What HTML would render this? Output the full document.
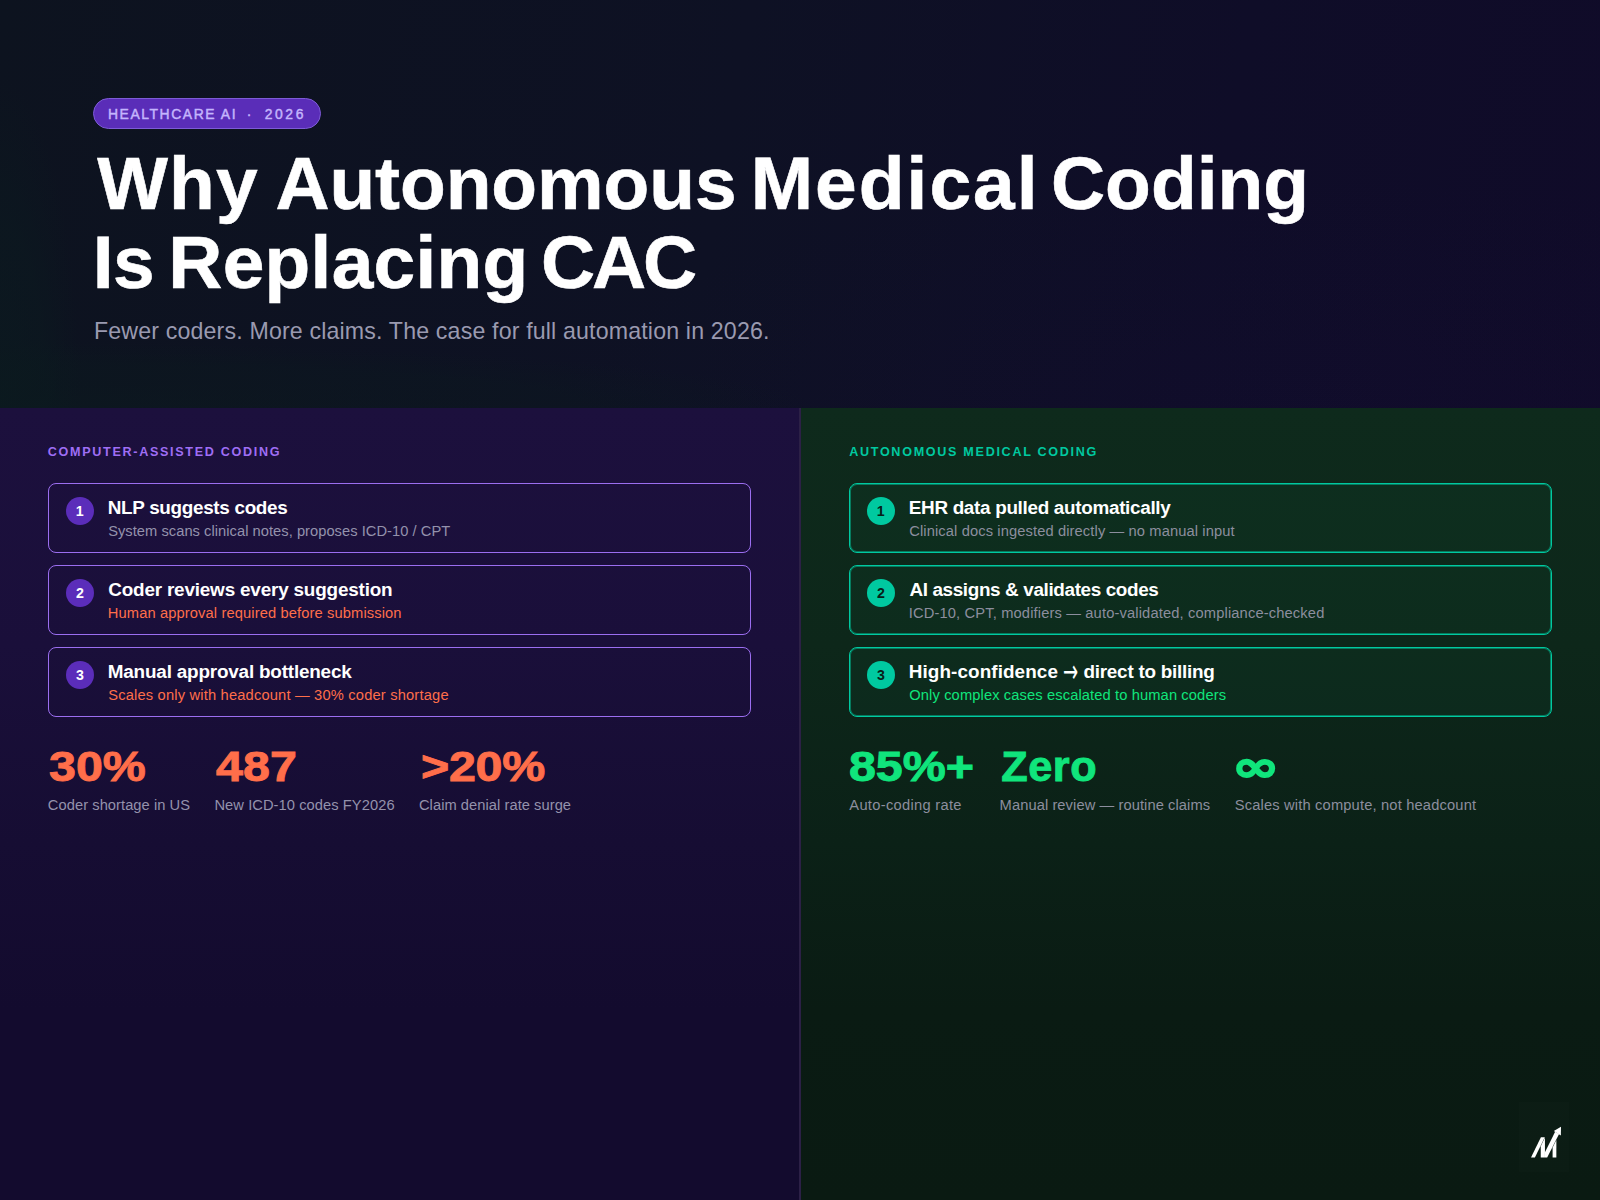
<!DOCTYPE html>
<html lang="en">
<head>
<meta charset="utf-8">
<title>Why Autonomous Medical Coding Is Replacing CAC</title>
<style>
*{box-sizing:border-box;margin:0;padding:0}
html,body{width:1600px;height:1200px;overflow:hidden;background:#0e1022}
body{font-family:"Liberation Sans", sans-serif;-webkit-font-smoothing:antialiased}
#slide{position:relative;width:1600px;height:1200px;overflow:hidden}
.t{position:absolute;white-space:nowrap;line-height:1;display:block}
.g{font-family:"DejaVu Sans","Liberation Sans",sans-serif;font-weight:700;transform-origin:0 0}
h1,p,h2{font-size:inherit;font-weight:inherit}
.hero-bg{position:absolute;left:0;top:0;width:1600px;height:408px;
  background:
   radial-gradient(ellipse 80px 330px at 0% 100%, rgba(11,26,31,.75) 0%, rgba(11,26,31,.55) 55%, rgba(11,26,31,0) 100%),
   radial-gradient(ellipse 820px 66px at 0% 100%, rgba(11,26,30,.55) 0%, rgba(11,26,30,.35) 70%, rgba(11,26,30,0) 100%),
   radial-gradient(ellipse 760px 230px at 82% 100%, rgba(26,15,62,.12), rgba(26,15,62,0) 100%),
   linear-gradient(100deg,#0d131f 0%,#0e1124 45%,#0f0d28 75%,#100b29 100%)}
.pill{position:absolute;left:93px;top:98px;width:228px;height:30.5px;border-radius:16px;background:#5a2db8;border:1px solid #7d5bd6}
.lbg{position:absolute;left:0;top:408px;width:799px;height:792px;background:linear-gradient(180deg,#1c103d 0%,#1a0f3a 30%,#160d33 55%,#130b2e 76%,#130b2e 100%)}
.rbg{position:absolute;left:801px;top:408px;width:799px;height:792px;background:linear-gradient(180deg,#0e2a1c 0%,#0d271a 30%,#0b2117 55%,#0a1b13 76%,#0a1a12 100%)}
.divider{position:absolute;left:799px;top:408px;width:2px;height:792px;background:#2c2046}
.card{position:absolute;width:703px;height:70px;border-radius:8px}
.lc{border:1px solid #9b6ef0}
.rc{border:1px solid #00c9a0;box-shadow:inset 0 0 0 1px rgba(0,201,160,.5);background:rgba(16,185,129,.04)}
.dot{position:absolute;width:28px;height:28px;border-radius:50%}
.ld{background:#5b2dba}
.rd{background:#00c9a0}
.logo{position:absolute;left:1519px;top:1102px;width:50px;height:70px;background:rgba(255,255,255,.012)}
.logo svg{position:absolute;left:9px;top:22px}
</style>
</head>
<body>
<main id="slide">
  <header>
    <div class="hero-bg"></div>
    <div class="pill"></div>
    <div class="kicker">
      <span class="t" style="left:107.92px;top:108.00px;font-size:13.9px;font-weight:400;color:#c4b5fd;letter-spacing:1.589px;-webkit-text-stroke:0.45px currentColor;">HEALTHCARE AI</span>
      <span class="t" style="left:246.63px;top:108.00px;font-size:13.9px;font-weight:400;color:#c4b5fd;-webkit-text-stroke:0.45px currentColor;">·</span>
      <span class="t" style="left:264.70px;top:108.00px;font-size:13.9px;font-weight:400;color:#c4b5fd;letter-spacing:2.603px;-webkit-text-stroke:0.45px currentColor;">2026</span>
    </div>
    <h1>
      <span class="t" style="left:97.15px;top:146.00px;font-size:74.9px;font-weight:700;color:#ffffff;letter-spacing:1.225px;-webkit-text-stroke:0.6px currentColor;">Why</span>
      <span class="t" style="left:275.38px;top:146.00px;font-size:74.9px;font-weight:700;color:#ffffff;letter-spacing:-0.054px;-webkit-text-stroke:0.6px currentColor;">Autonomous</span>
      <span class="t" style="left:750.65px;top:146.00px;font-size:74.9px;font-weight:700;color:#ffffff;letter-spacing:2.048px;-webkit-text-stroke:0.6px currentColor;">Medical</span>
      <span class="t" style="left:1050.99px;top:146.00px;font-size:74.9px;font-weight:700;color:#ffffff;letter-spacing:0.037px;-webkit-text-stroke:0.6px currentColor;">Coding</span>
      <span class="t" style="left:92.85px;top:225.00px;font-size:74.9px;font-weight:700;color:#ffffff;letter-spacing:-0.622px;-webkit-text-stroke:0.6px currentColor;">Is</span>
      <span class="t" style="left:168.35px;top:225.00px;font-size:74.9px;font-weight:700;color:#ffffff;letter-spacing:0.26px;-webkit-text-stroke:0.6px currentColor;">Replacing</span>
      <span class="t" style="left:540.99px;top:225.00px;font-size:74.9px;font-weight:700;color:#ffffff;letter-spacing:-3.066px;-webkit-text-stroke:0.6px currentColor;">CAC</span>
    </h1>
    <p>
      <span class="t" style="left:93.94px;top:320.00px;font-size:23.2px;font-weight:400;color:#9a9ab0;letter-spacing:0.153px;">Fewer coders. More claims. The case for full automation in 2026.</span>
    </p>
  </header>
  <section>
    <div class="lbg"></div>
    <h2>
      <span class="t" style="left:47.81px;top:446.00px;font-size:12.6px;font-weight:700;color:#9f6ef5;letter-spacing:1.679px;">COMPUTER-ASSISTED CODING</span>
    </h2>
    <div>
      <div class="card lc" style="left:48px;top:483px"></div>
      <span class="dot ld" style="left:66px;top:497px"></span>
      <span class="t" style="left:75.80px;top:504.00px;font-size:14.2px;font-weight:700;color:#ffffff">1</span>
      <span class="t" style="left:107.77px;top:499.00px;font-size:18.9px;font-weight:700;color:#ffffff;letter-spacing:-0.322px;">NLP suggests codes</span>
      <span class="t" style="left:108.16px;top:524.00px;font-size:14.7px;font-weight:400;color:#9492ac;letter-spacing:0.034px;">System scans clinical notes, proposes ICD-10 / CPT</span>
    </div>
    <div>
      <div class="card lc" style="left:48px;top:565px"></div>
      <span class="dot ld" style="left:66px;top:579px"></span>
      <span class="t" style="left:76.09px;top:586.00px;font-size:14.2px;font-weight:700;color:#ffffff">2</span>
      <span class="t" style="left:108.24px;top:581.00px;font-size:18.9px;font-weight:700;color:#ffffff;letter-spacing:-0.187px;">Coder reviews every suggestion</span>
      <span class="t" style="left:107.83px;top:606.00px;font-size:14.7px;font-weight:400;color:#ff6e4a;letter-spacing:0.117px;">Human approval required before submission</span>
    </div>
    <div>
      <div class="card lc" style="left:48px;top:647px"></div>
      <span class="dot ld" style="left:66px;top:661px"></span>
      <span class="t" style="left:76.08px;top:668.00px;font-size:14.2px;font-weight:700;color:#ffffff">3</span>
      <span class="t" style="left:107.77px;top:663.00px;font-size:18.9px;font-weight:700;color:#ffffff;letter-spacing:-0.192px;">Manual approval bottleneck</span>
      <span class="t" style="left:108.16px;top:688.00px;font-size:14.7px;font-weight:400;color:#ff6e4a;letter-spacing:0.176px;">Scales only with headcount — 30% coder shortage</span>
    </div>
    <div>
      <span class="t" style="left:49.05px;top:745.00px;font-size:43.2px;font-weight:700;color:#ff6e4a;letter-spacing:-0.011px;-webkit-text-stroke:0.9px currentColor;transform:scaleX(1.12);transform-origin:0 0;">30%</span>
      <span class="t" style="left:47.86px;top:798.00px;font-size:14.7px;font-weight:400;color:#9492ac;letter-spacing:0.049px;">Coder shortage in US</span>
      <span class="t" style="left:216.12px;top:745.00px;font-size:43.2px;font-weight:700;color:#ff6e4a;letter-spacing:0.128px;-webkit-text-stroke:0.9px currentColor;transform:scaleX(1.12);transform-origin:0 0;">487</span>
      <span class="t" style="left:214.43px;top:798.00px;font-size:14.7px;font-weight:400;color:#9492ac;letter-spacing:0.063px;">New ICD-10 codes FY2026</span>
      <span class="t" style="left:421.04px;top:745.00px;font-size:43.2px;font-weight:700;color:#ff6e4a;letter-spacing:-0.267px;-webkit-text-stroke:0.9px currentColor;transform:scaleX(1.12);transform-origin:0 0;">&gt;20%</span>
      <span class="t" style="left:418.96px;top:798.00px;font-size:14.7px;font-weight:400;color:#9492ac;letter-spacing:0.048px;">Claim denial rate surge</span>
    </div>
  </section>
  <div class="divider"></div>
  <section>
    <div class="rbg"></div>
    <h2>
      <span class="t" style="left:849.17px;top:446.00px;font-size:12.6px;font-weight:700;color:#00c9a0;letter-spacing:1.689px;">AUTONOMOUS MEDICAL CODING</span>
    </h2>
    <div>
      <div class="card rc" style="left:849px;top:483px"></div>
      <span class="dot rd" style="left:867px;top:497px"></span>
      <span class="t" style="left:876.80px;top:504.00px;font-size:14.2px;font-weight:700;color:#072118">1</span>
      <span class="t" style="left:908.77px;top:499.00px;font-size:18.9px;font-weight:700;color:#ffffff;letter-spacing:-0.314px;">EHR data pulled automatically</span>
      <span class="t" style="left:909.26px;top:524.00px;font-size:14.7px;font-weight:400;color:#8c8e9e;letter-spacing:0.111px;">Clinical docs ingested directly — no manual input</span>
    </div>
    <div>
      <div class="card rc" style="left:849px;top:565px"></div>
      <span class="dot rd" style="left:867px;top:579px"></span>
      <span class="t" style="left:877.09px;top:586.00px;font-size:14.2px;font-weight:700;color:#072118">2</span>
      <span class="t" style="left:909.41px;top:581.00px;font-size:18.9px;font-weight:700;color:#ffffff;letter-spacing:-0.366px;">AI assigns &amp; validates codes</span>
      <span class="t" style="left:908.69px;top:606.00px;font-size:14.7px;font-weight:400;color:#8c8e9e;letter-spacing:0.143px;">ICD-10, CPT, modifiers — auto-validated, compliance-checked</span>
    </div>
    <div>
      <div class="card rc" style="left:849px;top:647px"></div>
      <span class="dot rd" style="left:867px;top:661px"></span>
      <span class="t" style="left:877.08px;top:668.00px;font-size:14.2px;font-weight:700;color:#072118">3</span>
      <span class="t" style="left:908.77px;top:663.00px;font-size:18.9px;font-weight:700;color:#ffffff;letter-spacing:0.085px;">High-confidence</span>
      <span class="t g" style="font-weight:400;left:1063.23px;top:656.21px;font-size:31.84px;color:#ffffff;transform:scaleX(0.5664);-webkit-text-stroke:0px #ffffff;">→</span>
      <span class="t" style="left:1083.47px;top:663.00px;font-size:18.9px;font-weight:700;color:#ffffff;letter-spacing:-0.248px;">direct to billing</span>
      <span class="t" style="left:909.31px;top:688.00px;font-size:14.7px;font-weight:400;color:#10e57c;letter-spacing:0.113px;">Only complex cases escalated to human coders</span>
    </div>
    <div>
      <span class="t" style="left:848.97px;top:745.00px;font-size:43.2px;font-weight:700;color:#10e57c;letter-spacing:-0.027px;-webkit-text-stroke:0.9px currentColor;transform:scaleX(1.12);transform-origin:0 0;">85%+</span>
      <span class="t" style="left:849.30px;top:798.00px;font-size:14.7px;font-weight:400;color:#8c8e9e;letter-spacing:0.298px;">Auto-coding rate</span>
      <span class="t" style="left:1001.23px;top:745.00px;font-size:43.2px;font-weight:700;color:#10e57c;letter-spacing:0.615px;-webkit-text-stroke:0.9px currentColor;">Zero</span>
      <span class="t" style="left:999.58px;top:798.00px;font-size:14.7px;font-weight:400;color:#8c8e9e;letter-spacing:0.081px;">Manual review — routine claims</span>
      <span class="t g" style="left:1232.44px;top:746.28px;font-size:42.44px;color:#10e57c;transform:scaleX(1.3471);-webkit-text-stroke:1.6px #10e57c;">∞</span>
      <span class="t" style="left:1234.76px;top:798.00px;font-size:14.7px;font-weight:400;color:#8c8e9e;letter-spacing:0.162px;">Scales with compute, not headcount</span>
    </div>
  </section>
  <div class="logo">
    <svg width="36" height="36" viewBox="0 0 1200 1200"><g fill="#fff"><path d="M100 1120 L230 1120 L560 440 L430 440 Z"/><path d="M425 1120 L425 738 L565 450 L565 1120 Z"/><path d="M565 940 L905 255 L1035 335 L640 1120 L565 1120 Z"/><path d="M860 235 L1100 95 L1095 385 Z"/><path d="M820 1120 L820 783 L945 535 L945 1120 Z"/></g></svg>
  </div>
</main>
</body>
</html>
